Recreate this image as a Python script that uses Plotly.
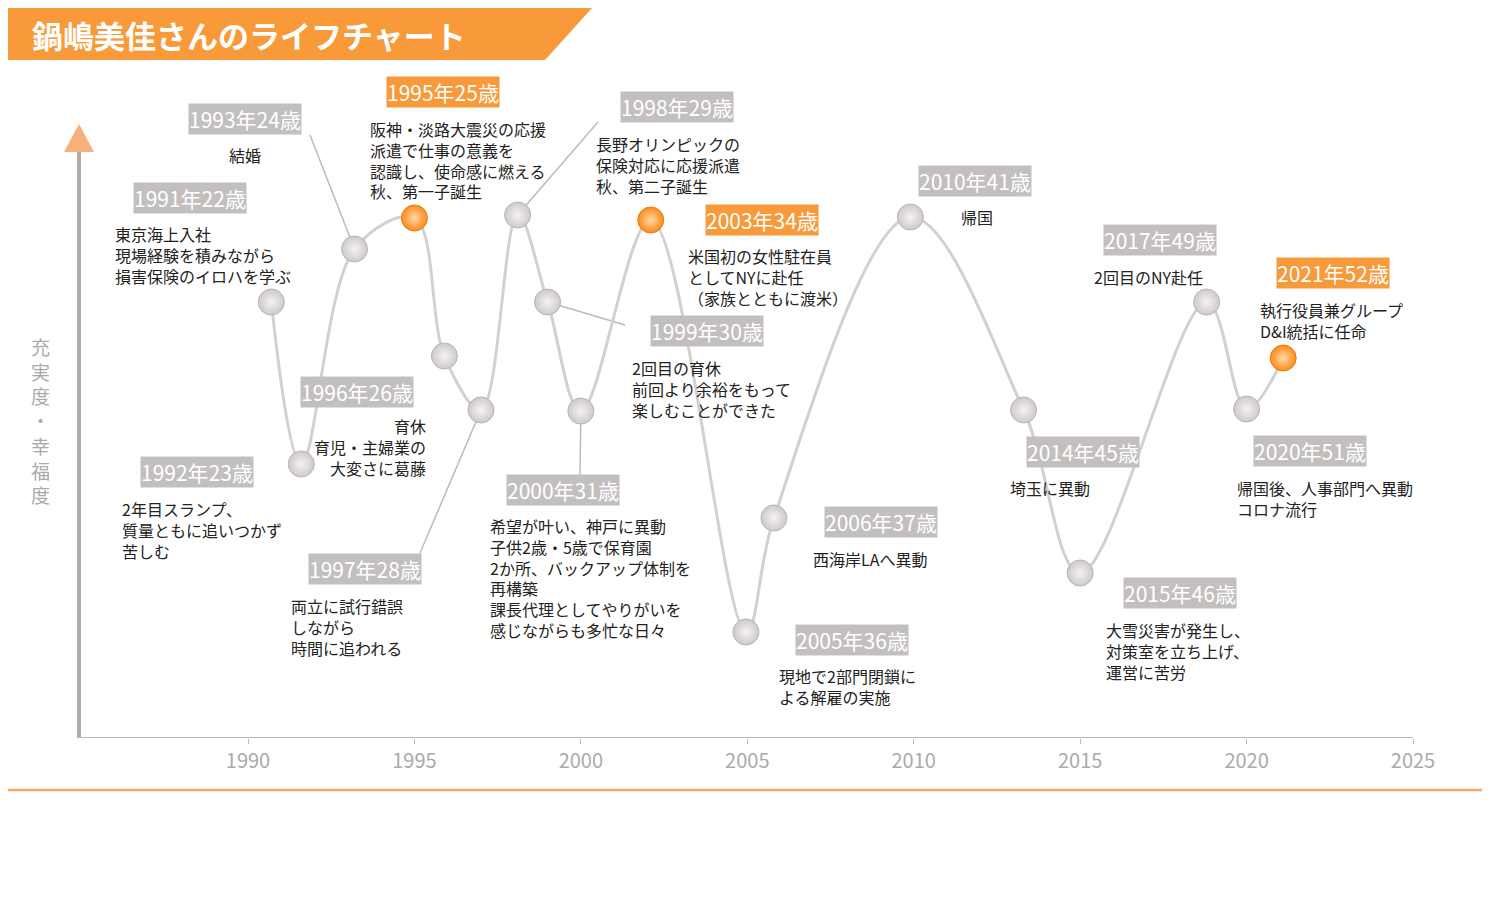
import plotly.graph_objects as go

years = [1990.7,1991.6,1993.2,1995.0,1995.9,1997.0,1998.1,1999.0,2000.0,2002.1,2004.96,2005.8,2009.9,2013.3,2015.0,2018.8,2020.0,2021.1]
values = [436,274,489,520,382,328,523,436,327,518,106,220,521,328,165,436,329,380]
highlight = [False,False,False,True,False,False,False,False,False,True,False,False,False,False,False,False,False,True]
tick_years = [1990,1995,2000,2005,2010,2015,2020,2025]

labels = [
 ("1993年24歳", ["結婚"], False, (245,119), (245,152), "center", 2),
 ("1995年25歳", ["阪神・淡路大震災の応援","派遣で仕事の意義を","認識し、使命感に燃える","秋、第一子誕生"], True, (443,92), (368,126), "left", None),
 ("1991年22歳", ["東京海上入社","現場経験を積みながら","損害保険のイロハを学ぶ"], False, (190,198), (113,231), "left", None),
 ("1998年29歳", ["長野オリンピックの","保険対応に応援派遣","秋、第二子誕生"], False, (677,107), (594,141), "left", 6),
 ("2003年34歳", ["米国初の女性駐在員","としてNYに赴任","（家族とともに渡米）"], True, (762,220), (686,253), "left", None),
 ("2010年41歳", ["帰国"], False, (975,181), (977,214), "center", None),
 ("2017年49歳", ["2回目のNY赴任"], False, (1160,240), (1148,274), "center", None),
 ("2021年52歳", ["執行役員兼グループ","D&I統括に任命"], True, (1333,273), (1258,307), "left", None),
 ("1999年30歳", ["2回目の育休","前回より余裕をもって","楽しむことができた"], False, (707,331), (630,365), "left", 7),
 ("1996年26歳", ["育休","育児・主婦業の","大変さに葛藤"], False, (357,392), (428,423), "right", None),
 ("1992年23歳", ["2年目スランプ、","質量ともに追いつかず","苦しむ"], False, (197,472), (120,506), "left", None),
 ("2000年31歳", ["希望が叶い、神戸に異動","子供2歳・5歳で保育園","2か所、バックアップ体制を","再構築","課長代理としてやりがいを","感じながらも多忙な日々"], False, (563,490), (488,523), "left", 8),
 ("1997年28歳", ["両立に試行錯誤","しながら","時間に追われる"], False, (365,569), (289,603), "left", 5),
 ("2006年37歳", ["西海岸LAへ異動"], False, (881,522), (870,556), "center", None),
 ("2005年36歳", ["現地で2部門閉鎖に","よる解雇の実施"], False, (852,640), (777,673), "left", None),
 ("2014年45歳", ["埼玉に異動"], False, (1083,452), (1050,485), "center", None),
 ("2020年51歳", ["帰国後、人事部門へ異動","コロナ流行"], False, (1310,451), (1235,485), "left", None),
 ("2015年46歳", ["大雪災害が発生し、","対策室を立ち上げ、","運営に苦労"], False, (1180,593), (1104,627), "left", None),
]
conn_start = {0:(310,135),3:(598,122),8:(625,325),11:(580,476),12:(420,553)}

OFF = 8
L, R, T, B = 78, 1430, 78, 738
XR = [1990-(248-78)/33.286, 1990+(1430-248)/33.286]
YR = [0, 660]
def dx(p): return XR[0]+(p-L)/(R-L)*(XR[1]-XR[0])
def dy(p): return (B-p)/(B-T)*YR[1]
def pxp(p): return (p-L)/(R-L)
def pyp(p): return (B-p)/(B-T)

FONT = "Noto Sans CJK JP"
ORANGE = "#f89a3a"
GRAY = "#c3bfbf"
fig = go.Figure()
shapes = []
ann = []

for i,(t,lines,org,pc,tc,al,pt) in enumerate(labels):
    if i in conn_start:
        sx, sy = conn_start[i]
        shapes.append(dict(type="line", xref="x", yref="y", x0=dx(sx), y0=dy(sy), x1=years[pt], y1=values[pt], line=dict(color="#bbbbbb", width=1.5), layer="below"))

fig.add_trace(go.Scatter(x=years, y=values, mode="lines", line=dict(shape="spline", smoothing=1.0, color="#d3d0d0", width=3), hoverinfo="skip"))
fig.add_trace(go.Scatter(x=years, y=values, mode="markers",
    marker=dict(size=26, color=["#ff8a1a" if h else "#cfcaca" for h in highlight],
                gradient=dict(type="radial", color=["#ffd9a8" if h else "#f4f2f2" for h in highlight]),
                line=dict(color=["#f07a10" if h else "#b9b4b4" for h in highlight], width=1)), hoverinfo="skip"))

for (t,lines,org,pc,tc,al,pt) in labels:
    ann.append(dict(xref="paper", yref="paper", x=pxp(pc[0]), y=pyp(pc[1]), text=t, showarrow=False,
                    font=dict(family=FONT, size=21, color="white"), bgcolor=ORANGE if org else GRAY,
                    borderpad=0, xanchor="center", yanchor="middle"))
    ann.append(dict(xref="paper", yref="paper", x=pxp(tc[0]), y=pyp(tc[1]-11), text="<br>".join(lines), showarrow=False,
                    font=dict(family=FONT, size=16, color="#222"), align=al, xanchor=al, yanchor="top"))

shapes.append(dict(type="path", xref="paper", yref="paper",
    path=f"M {pxp(8)} {pyp(8)} L {pxp(592)} {pyp(8)} L {pxp(545)} {pyp(60)} L {pxp(8)} {pyp(60)} Z",
    fillcolor=ORANGE, line=dict(width=0)))
shapes.append(dict(type="rect", xref="paper", yref="paper", x0=pxp(5), y0=pyp(5), x1=pxp(1485), y1=pyp(790),
    line=dict(color="#f6a86a", width=2.5)))
ann.append(dict(xref="paper", yref="paper", x=pxp(30), y=pyp(34), text="<b>鍋嶋美佳さんのライフチャート</b>", showarrow=False,
    font=dict(family=FONT, size=31, color="white"), xanchor="left", yanchor="middle"))
shapes.append(dict(type="line", xref="paper", yref="paper", x0=pxp(79), y0=pyp(738), x1=pxp(79), y1=pyp(150), line=dict(color="#b0aaaa", width=4)))
shapes.append(dict(type="path", xref="paper", yref="paper",
    path=f"M {pxp(64)} {pyp(152)} L {pxp(79)} {pyp(124)} L {pxp(94)} {pyp(152)} Z", fillcolor="#f8b07a", line=dict(width=0)))
ann.append(dict(xref="paper", yref="paper", x=pxp(40), y=pyp(420), text="<br>".join("充実度・幸福度"), showarrow=False,
    font=dict(family=FONT, size=19, color="#aaa"), xanchor="center", yanchor="middle"))
shapes.append(dict(type="line", xref="paper", yref="y", x0=0, x1=pxp(1413), y0=0, y1=0, line=dict(color="#bbb", width=2)))

fig.update_layout(width=1490, height=916, margin=dict(l=L-OFF, r=1490-(R-OFF), t=T-OFF, b=916-(B-OFF)),
    paper_bgcolor="white", plot_bgcolor="white", showlegend=False, shapes=shapes, annotations=ann,
    xaxis=dict(range=XR, tickvals=tick_years, ticks="outside", ticklen=5, tickcolor="#bbb",
               showgrid=False, zeroline=False, showline=False, tickfont=dict(family=FONT, size=20, color="#aaa")),
    yaxis=dict(range=YR, showticklabels=False, showgrid=False, zeroline=False, ticks=""))
fig.write_html("out.html")
